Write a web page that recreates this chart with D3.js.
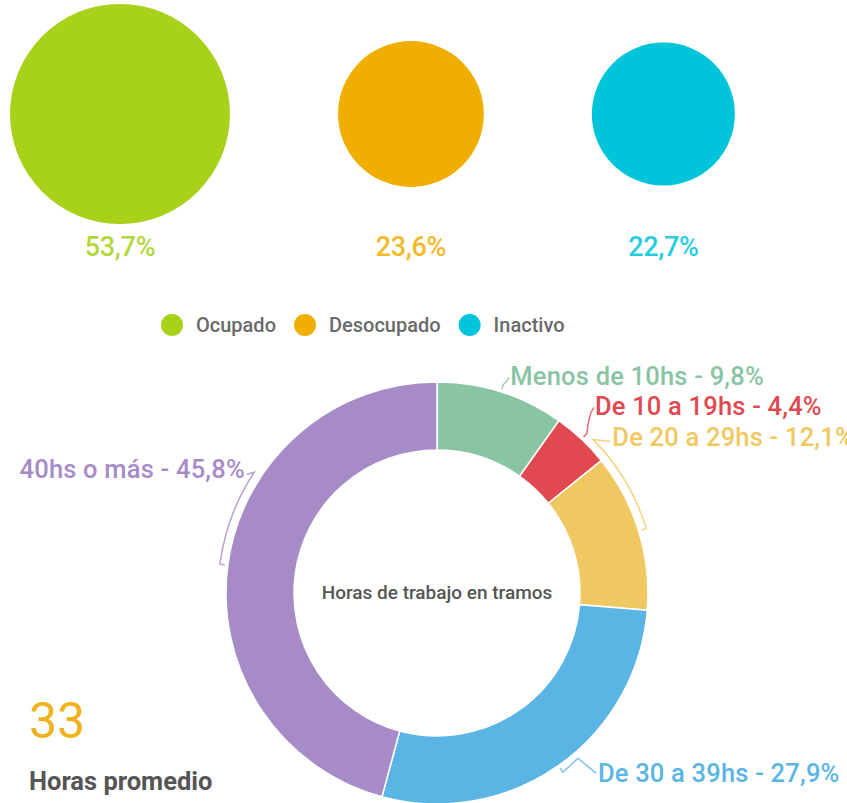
<!DOCTYPE html>
<html lang="es">
<head>
<meta charset="utf-8">
<style>
  body { margin: 0; background: #fff; overflow: hidden; }
  text { font-family: Roboto, "Noto Sans", sans-serif; }
</style>
</head>
<body>
<script src="https://cdn.jsdelivr.net/npm/d3@7"></script>
<script>
    var width = 847, height = 803;

    // condición de actividad
    const categories = ["Ocupado", "Desocupado", "Inactivo"];
    const shares = [53.7, 23.6, 22.7];
    const shareLabels = ["53,7%", "23,6%", "22,7%"];
    const catColors = ["#a8d11a", "#f0ae00", "#00c5da"];

    // horas de trabajo en tramos
    const tramos = ["Menos de 10hs", "De 10 a 19hs", "De 20 a 29hs", "De 30 a 39hs", "40hs o más"];
    const tramoValues = [9.8, 4.4, 12.1, 27.9, 45.8];
    const tramoLabels = ["9,8%", "4,4%", "12,1%", "27,9%", "45,8%"];
    const tramoColors = ["#89c4a3", "#e0494f", "#f0c862", "#5ab4e4", "#a68bc7"];
    const promedio = "33";

    var svg = d3.select('body').append('svg').attr('width', width).attr('height', height);

    // --- burbujas superiores (área proporcional) ---
    var r = d3.scaleSqrt().domain([0, d3.max(shares)]).range([0, 110]);
    var gap = 108, x0 = 10, cy = 114;
    var bubbles = [];
    var cursor = x0;
    shares.forEach(function (v, i) {
        var rad = r(v);
        bubbles.push({ cat: categories[i], value: v, label: shareLabels[i], color: catColors[i], r: rad, x: cursor + rad });
        cursor += rad * 2 + gap;
    });

    svg.selectAll('circle.bubble')
        .data(bubbles)
        .join('circle')
        .attr('class', 'bubble')
        .attr('cx', function (d) { return d.x })
        .attr('cy', cy)
        .attr('r', function (d) { return d.r })
        .attr('fill', function (d) { return d.color });

    svg.selectAll('text.share')
        .data(bubbles)
        .join('text')
        .attr('class', 'share')
        .attr('x', function (d) { return d.x })
        .attr('y', 256)
        .attr('text-anchor', 'middle')
        .attr('font-size', 27)
        .attr('font-weight', 500)
        .attr('letter-spacing', -0.3)
        .attr('fill', function (d) { return d.color })
        .attr('opacity', 0.85)
        .text(function (d) { return d.label });

    // --- leyenda ---
    var legend = svg.append('g').attr('transform', 'translate(172,325)');
    var lx = 0;
    categories.forEach(function (c, i) {
        var g = legend.append('g').attr('transform', 'translate(' + lx + ',0)');
        g.append('circle').attr('r', 11).attr('fill', catColors[i]);
        var t = g.append('text')
            .attr('x', 24).attr('y', 7)
            .attr('font-size', 20)
            .attr('font-weight', 500)
            .attr('fill', '#6a6a6a')
            .text(c);
        lx += 24 + t.node().getComputedTextLength() + 29;
    });

    // --- anillo ---
    var cx = 437, cyD = 593, outerR = 211, innerR = 143;
    var pie = d3.pie().sort(null).value(function (d) { return d.value });
    var data = tramos.map(function (t, i) {
        return { name: t, value: tramoValues[i], label: tramoLabels[i], color: tramoColors[i] };
    });
    var arcs = pie(data);
    var arc = d3.arc().innerRadius(innerR).outerRadius(outerR);

    var donut = svg.append('g').attr('transform', 'translate(' + cx + ',' + cyD + ')');
    donut.selectAll('path.slice')
        .data(arcs)
        .join('path')
        .attr('class', 'slice')
        .attr('d', arc)
        .attr('fill', function (d) { return d.data.color })
        .attr('stroke', '#fff')
        .attr('stroke-width', 1.5);

    donut.append('text')
        .attr('text-anchor', 'middle')
        .attr('y', 6)
        .attr('font-size', 19)
        .attr('font-weight', 500)
        .attr('fill', '#555')
        .text('Horas de trabajo en tramos');

    // etiquetas: desplazamiento del texto respecto del punto medio del arco (r + 8)
    var labelNudge = [[7, 1], [8, -18], [-34, -83], [35, 10], [25, -86]];
    var labelAnchor = ['start', 'start', 'start', 'start', 'end'];

    function polar(rad, a) { return [rad * Math.sin(a), -rad * Math.cos(a)]; }

    arcs.forEach(function (d, i) {
        var mid = (d.startAngle + d.endAngle) / 2;
        var p = polar(outerR + 8, mid);
        var tx = p[0] + labelNudge[i][0], ty = p[1] + labelNudge[i][1];
        var col = d.data.color;
        var path = d3.path();
        var q = polar(outerR + 3, mid);
        path.moveTo(q[0], q[1]);
        path.lineTo(p[0], p[1]);
        if (i === 2 || i === 4) {
            // corchete que sigue el borde del arco hasta la altura del texto
            var yt = ty - 6;
            var la = Math.acos(-yt / (outerR + 8));
            if (i === 4) la = 2 * Math.PI - la;
            var a0 = mid - Math.PI / 2, a1 = la - Math.PI / 2;
            path.arc(0, 0, outerR + 8, a0, a1, a1 < a0);
            path.lineTo(tx + (i === 4 ? 2 : -2), ty - 4);
        } else if (i === 3) {
            path.lineTo(p[0] + 15, p[1] - 14);
            path.lineTo(tx - 2, ty - 9);
        } else {
            path.quadraticCurveTo(p[0] + 2, ty - 2, tx - 1, ty - 8);
        }
        donut.append('path')
            .attr('d', path.toString())
            .attr('fill', 'none')
            .attr('stroke', col)
            .attr('stroke-width', 1.5)
            .attr('opacity', 0.8);

        donut.append('text')
            .attr('x', tx)
            .attr('y', ty)
            .attr('text-anchor', labelAnchor[i])
            .attr('font-size', 25.5)
            .attr('font-weight', 500)
            .attr('letter-spacing', 0.2)
            .attr('fill', col)
            .text(d.data.name + ' - ' + d.data.label);
    });

    // --- promedio ---
    svg.append('text')
        .attr('x', 29).attr('y', 738)
        .attr('font-size', 50)
        .attr('font-weight', 400)
        .attr('fill', '#f0b320')
        .text(promedio);
    svg.append('text')
        .attr('x', 29).attr('y', 790)
        .attr('font-size', 25.5)
        .attr('font-weight', 700)
        .attr('fill', '#555')
        .text('Horas promedio');
</script>
</body>
</html>
